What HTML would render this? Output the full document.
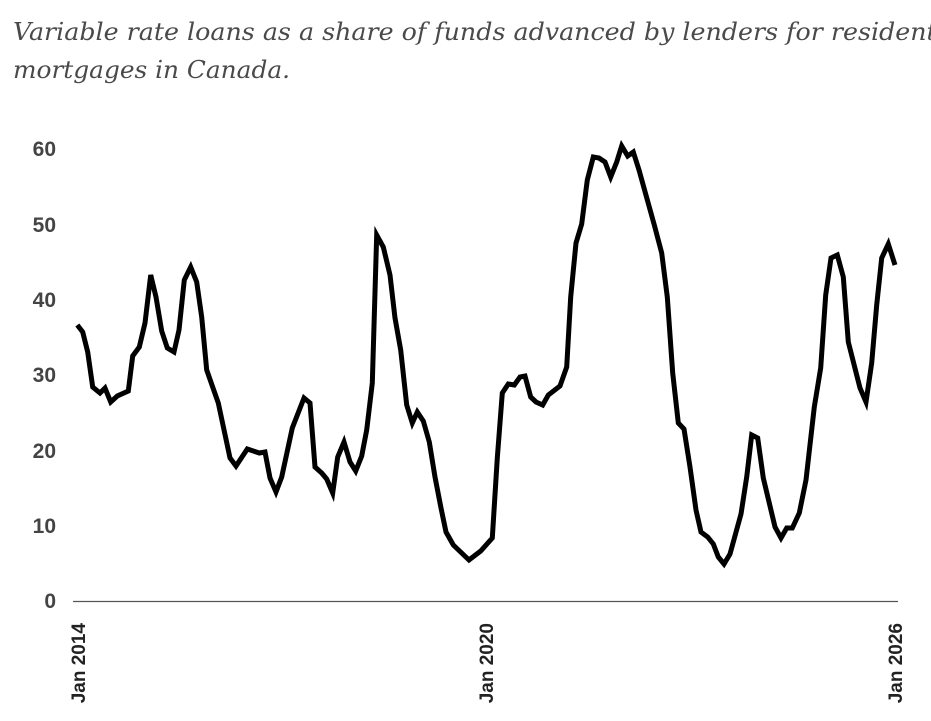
<!DOCTYPE html>
<html><head><meta charset="utf-8"><style>
html,body{margin:0;padding:0;background:#fff;width:931px;height:721px;overflow:hidden}
</style></head><body>
<svg width="931" height="721" viewBox="0 0 931 721" xmlns="http://www.w3.org/2000/svg">
<text x="13" y="40" font-family="DejaVu Serif, serif" font-style="italic" font-size="24" fill="#4a4a4a" textLength="955" lengthAdjust="spacingAndGlyphs">Variable rate loans as a share of funds advanced by lenders for residential</text>
<text x="13" y="78" font-family="DejaVu Serif, serif" font-style="italic" font-size="24" fill="#4a4a4a" textLength="277" lengthAdjust="spacingAndGlyphs">mortgages in Canada.</text>
<g font-family="Liberation Sans, sans-serif" font-weight="bold" font-size="21" fill="#444" text-anchor="end">
<text x="56" y="608">0</text>
<text x="56" y="533">10</text>
<text x="56" y="458">20</text>
<text x="56" y="382">30</text>
<text x="56" y="307">40</text>
<text x="56" y="232">50</text>
<text x="56" y="156">60</text>
</g>
<line x1="73" y1="601.5" x2="898" y2="601.5" stroke="#555" stroke-width="1.3"/>
<g font-family="Liberation Sans, sans-serif" font-weight="bold" font-size="19" fill="#222" text-anchor="end">
<text transform="translate(85,623) rotate(-90)">Jan 2014</text>
<text transform="translate(493,623) rotate(-90)">Jan 2020</text>
<text transform="translate(902,623) rotate(-90)">Jan 2026</text>
</g>
<polyline fill="none" stroke="#000" stroke-width="5" stroke-linejoin="miter" points="77.3,325 82.7,332 87.7,352 92.7,387 100,393 105,388 110.7,402 117.3,396 128.3,391 132.7,356 139.3,347 145,323 150.7,275 156,297 161.7,331 167.3,348 174,352 179,330 184.3,280 190.7,267 196.7,282 201.7,317 206.7,370 218.3,403 230,458 236,466 247.3,449 253.3,451 259.3,453 265,452 270,478 276,492 281.7,477 292.3,428 304,398 310,403 315,467 321.7,473 326.7,479 332.7,493 337.7,457 344,442 350,462 355.7,471 361.7,456 366.7,430 372.3,383 376.7,235 383.3,247 390,275 395,318 400.7,350 406.7,405 412.3,423 417.3,412 423.3,421 429.3,442 435,477 441,508 446,532 453.3,545 469,560 480.7,551 492.3,538 497.3,458 502.3,393 508.3,384 514.3,385 520,377 525,376 530.7,397 536,402 542.7,405 548.3,395 560,386 566.7,367 570.7,297 576,243 581.7,224 587.3,180 593.3,157 599,158 605,162 610.7,177 616.7,162 621.7,146 627.7,156 633.3,152 639,170 654.3,225 661.7,253 667.3,297 672.7,373 678.3,423 684,429 690,467 696,510 701,532 707.7,537 713.3,544 718.3,557 724,564 730,554 741,514 746.7,477 751.7,435 757.7,438 763.3,478 775,527 781,538 786.7,528 792.3,528 799.3,513 806,480 814.3,407 820.7,368 825.7,295 831,258 837.3,255 843.3,277 848.3,342 860,388 866,402 871.7,363 876.7,305 881.7,258 888.3,244 895,265"/>
</svg>
</body></html>
